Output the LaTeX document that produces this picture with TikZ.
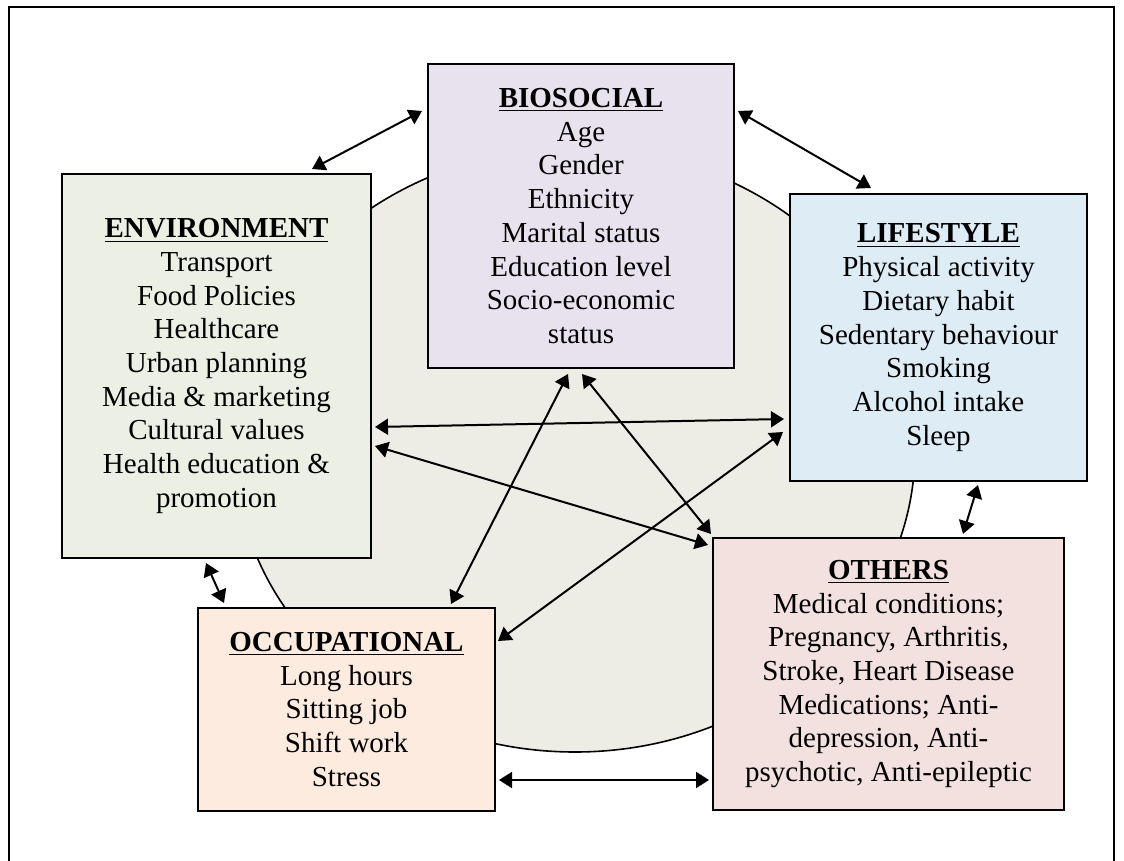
\documentclass[tikz,border=0pt]{standalone}
\usepackage{fontspec}
\setmainfont{Liberation Serif}
\usepackage{xcolor}
\usetikzlibrary{arrows.meta,calc}

\definecolor{circleFill}{HTML}{EEEDE5}
\definecolor{bioFill}{HTML}{E8E2EF}
\definecolor{envFill}{HTML}{ECEFE3}
\definecolor{lifeFill}{HTML}{DEEDF5}
\definecolor{occFill}{HTML}{FDEBE0}
\definecolor{othFill}{HTML}{F3E1E0}

\newcommand{\factorTitle}[1]{\underline{\textbf{#1}}}

\begin{document}
\begin{tikzpicture}[
  x=0.5pt, y=-0.5pt,
  >={Triangle[length=6.5pt,width=8pt]},
  font=\fontsize{14.5}{16.85}\selectfont,
  factor/.style={draw, line width=1pt, align=center, inner sep=0pt},
  link/.style={<->, line width=1pt},
]

\clip (0,0) rectangle (1124,861);
\fill[white] (0,0) rectangle (1124,861);
\draw[line width=1.2pt] (9,7) rectangle (1114,880);

% --- central circle ---
\draw[fill=circleFill, line width=0.8pt] (575,450) ellipse [x radius=170pt, y radius=151pt];

% --- factor boxes ---
\node[factor, fill=bioFill, minimum width=153pt, minimum height=152pt] (bio) at (581,216)
  {\factorTitle{BIOSOCIAL}\\Age\\Gender\\Ethnicity\\Marital status\\Education level\\Socio-economic\\status};
\node[factor, fill=envFill, minimum width=154.5pt, minimum height=192pt] (env) at (216.5,366)
  {\factorTitle{ENVIRONMENT}\\Transport\\Food Policies\\Healthcare\\Urban planning\\Media \& marketing\\Cultural values\\Health education \&\\promotion};
\node[factor, fill=lifeFill, minimum width=148.5pt, minimum height=143.5pt] (life) at (938.5,337.5)
  {\factorTitle{LIFESTYLE}\\Physical activity\\Dietary habit\\Sedentary behaviour\\Smoking\\Alcohol intake\\Sleep};
\node[factor, fill=occFill, minimum width=148.5pt, minimum height=101.5pt] (occ) at (346.5,709.5)
  {\factorTitle{OCCUPATIONAL}\\Long hours\\Sitting job\\Shift work\\Stress};
\node[factor, fill=othFill, minimum width=175.5pt, minimum height=136pt] (oth) at (888.5,674)
  {\factorTitle{OTHERS}\\Medical conditions;\\Pregnancy, Arthritis,\\Stroke, Heart Disease\\Medications; Anti-\\depression, Anti-\\psychotic, Anti-epileptic};

% --- links between factors ---
\draw[link] ($(env.north west)+(251,-4)$) -- ($(bio.north west)+(-5,48)$);
\draw[link] ($(bio.north east)+(3,48)$) -- ($(life.north west)+(82,-5)$);
\draw[link] ($(env.north east)+(3,254)$) -- ($(life.north west)+(-5,226)$);
\draw[link] ($(env.north east)+(3,273)$) -- ($(oth.north west)+(-4,8)$);
\draw[link] ($(bio.south)+(-13,5)$) -- ($(occ.north west)+(254,-3)$);
\draw[link] ($(bio.south)+(1,5)$) -- ($(oth.north west)+(-1,-3)$);
\draw[link] ($(life.north west)+(-6,239)$) -- ($(occ.north east)+(2,34)$);
\draw[link] ($(env.south west)+(145,4)$) -- ($(occ.north west)+(27,-4)$);
\draw[link] ($(life.south west)+(189,3)$) -- ($(oth.north west)+(251,-3)$);
\draw[link] ($(occ.south east)+(3,-32)$) -- ($(oth.south west)+(-3,-31)$);

\end{tikzpicture}
\end{document}
